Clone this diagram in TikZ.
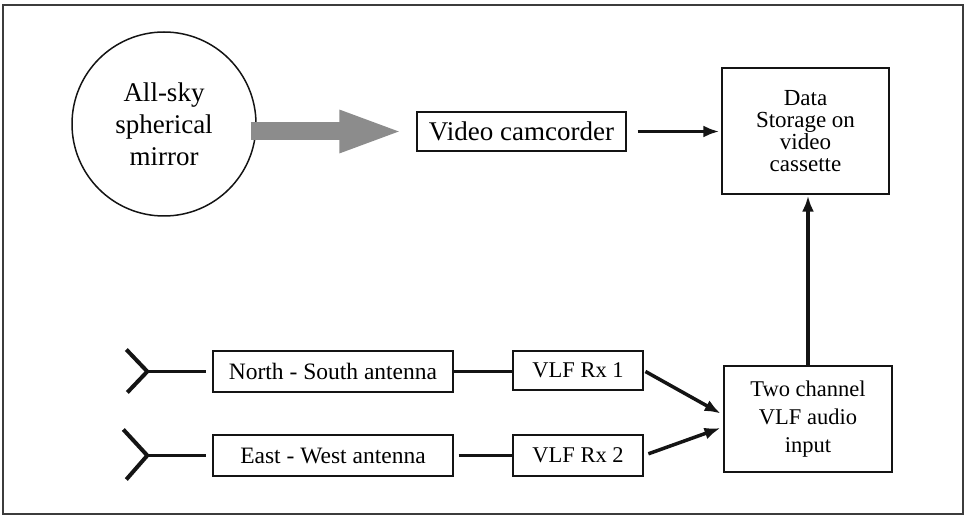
\documentclass[tikz,border=0pt]{standalone}
\usepackage{fontspec}
\setmainfont{Liberation Serif}
\usepackage{tikz}
\usetikzlibrary{arrows.meta, positioning, calc}
\definecolor{myink}{RGB}{20,20,20}
\definecolor{myhalftone}{RGB}{140,140,140}
\definecolor{myframe}{RGB}{60,60,60}
\tikzset{
  block/.style={rectangle, draw=myink, line width=1.4pt, inner sep=0pt,
    align=center, font=\fontsize{23.5}{26}\selectfont},
  sphere/.style={circle, draw=myink, line width=1.5pt, minimum size=184pt,
    inner sep=0pt, align=center, font=\fontsize{27}{32}\selectfont},
  arrow/.style={-{Latex[length=16pt, width=12pt]}, line width=3.5pt, color=myink},
  line/.style={line width=3.5pt, color=myink},
  fatarrow/.style={line width=18pt, color=myhalftone,
    -{Triangle[length=65pt, width=38pt]}}
}

\begin{document}
\begin{tikzpicture}[x=1pt, y=-1pt]
  \useasboundingbox (0,0) rectangle (967,521);
  % Frame
  \draw[myframe, line width=1.3pt] (3,5) rectangle (963,514);

  % Optical chain
  \node[sphere] (mirror) at (164,124) {All-sky\\spherical\\mirror};
  \node[block, minimum width=209pt, minimum height=39pt,
    font=\fontsize{27}{30}\selectfont] (cam) at (521.5,131.5) {Video camcorder};
  \node[block, minimum width=167pt, minimum height=126pt,
    font=\fontsize{23}{22}\selectfont] (store) at (805.5,131) {Data\\Storage on\\video\\cassette};

  % Radio chain
  \node[block, minimum width=240pt, minimum height=41pt] (ns) at (333,371.5) {North - South antenna};
  \node[block, minimum width=130pt, minimum height=39pt,
    font=\fontsize{22.5}{26}\selectfont] (rxa) at (578,370.5) {VLF Rx 1};
  \node[block, minimum width=240pt, minimum height=41pt] (ew) at (333,455.5) {East - West antenna};
  \node[block, minimum width=130pt, minimum height=41pt,
    font=\fontsize{22.5}{26}\selectfont] (rxb) at (578,455.5) {VLF Rx 2};
  \node[block, minimum width=168pt, minimum height=106pt,
    font=\fontsize{22.5}{28}\selectfont] (audio) at (808,419) {Two channel\\VLF audio\\input};

  % Antennas
  \coordinate[left=65pt of ns.west] (antns);
  \coordinate[left=65pt of ew.west] (antew);
  \draw[line, line width=4pt] ($(antns)+(-21,-22)$) -- (antns) -- ($(antns)+(-20,21)$);
  \draw[line] (antns) -- ([xshift=-6pt]ns.west);
  \draw[line, line width=4pt] ($(antew)+(-24,-26)$) -- (antew) -- ($(antew)+(-21,24)$);
  \draw[line] (antew) -- ([xshift=-6pt]ew.west);

  % Connectors
  \draw[fatarrow, shorten <=-6pt, shorten >=12pt] (mirror.east |- cam.west) -- (cam.west);
  \draw[arrow, shorten <=11pt, shorten >=2pt] (cam.east) -- (cam.east -| store.west);
  \draw[arrow, shorten >=1pt] (audio.north) -- (audio.north |- store.south);
  \draw[line] (ns.east) -- (ns.east -| rxa.west);
  \draw[line] ([xshift=5pt]ew.east) -- (ew.east -| rxb.west);
  \draw[arrow, shorten <=2pt, shorten >=3pt] (rxa.east) -- ([yshift=4pt]audio.west);
  \draw[arrow, shorten <=5pt, shorten >=3pt] (rxb.east) -- ([yshift=-8pt]audio.west);
\end{tikzpicture}
\end{document}
